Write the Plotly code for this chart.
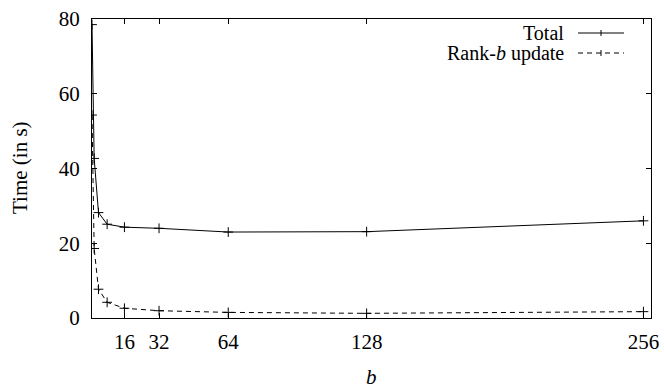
import plotly.graph_objects as go

# Data
block_sizes = [1, 2, 4, 8, 16, 32, 64, 128, 256]
total_time = [78.5, 42.7, 28.2, 25.1, 24.3, 24.0, 23.0, 23.1, 26.0]
rank_b_time = [54.3, 18.6, 7.7, 4.2, 2.6, 1.95, 1.5, 1.25, 1.7]
x_tick_vals = [16, 32, 64, 128, 256]
y_tick_vals = [0, 20, 40, 60, 80]
series_names = ["Total", "Rank-<i>b</i> update"]

FONT = "Liberation Serif"
W, H = 664, 388
L, R, T, B = 92, 13, 19, 70
PW, PH = W - L - R, H - T - B


def px2paper(px, py):
    return (px - L) / PW, (H - B - py) / PH


fig = go.Figure()
fig.add_trace(go.Scatter(
    x=block_sizes, y=total_time, mode="lines+markers", name=series_names[0],
    line=dict(color="black", width=1),
    marker=dict(symbol="cross-thin", size=7, line=dict(color="black", width=1)),
    showlegend=False,
))
fig.add_trace(go.Scatter(
    x=block_sizes, y=rank_b_time, mode="lines+markers", name=series_names[1],
    line=dict(color="black", width=1, dash="5px,4px"),
    marker=dict(symbol="cross-thin", size=7, line=dict(color="black", width=1)),
    showlegend=False,
))

axis_common = dict(
    showline=True, linecolor="black", linewidth=1, mirror="ticks",
    ticks="inside", ticklen=5, tickwidth=1, tickcolor="black",
    showgrid=False, zeroline=False,
    tickfont=dict(family=FONT, size=21, color="black"),
)
fig.update_xaxes(range=[1, 259.5], tickvals=x_tick_vals,
                 ticktext=[str(v) for v in x_tick_vals],
                 ticklabelstandoff=5, **axis_common)
fig.update_yaxes(range=[0, 80], tickvals=y_tick_vals,
                 ticklabelstandoff=7, **axis_common)

annotations = []
# axis titles
ax, ay = px2paper(20, 168)
annotations.append(dict(text="Time (in s)", xref="paper", yref="paper", x=ax, y=ay,
                        textangle=-90, showarrow=False, xanchor="center", yanchor="middle",
                        font=dict(family=FONT, size=21, color="black")))
bx, by = px2paper(371, 377)
annotations.append(dict(text="<i>b</i>", xref="paper", yref="paper", x=bx, y=by,
                        showarrow=False, xanchor="center", yanchor="middle",
                        font=dict(family=FONT, size=21, color="black")))

# legend (gnuplot style: text then sample to the right)
shapes = []
legend_rows = [(33, "solid"), (53, "5px,4px")]
for (row_y, dash), name in zip(legend_rows, series_names):
    tx, ty = px2paper(566, row_y)
    annotations.append(dict(text=name, xref="paper", yref="paper", x=tx, y=ty,
                            showarrow=False, xanchor="right", yanchor="middle",
                            font=dict(family=FONT, size=20, color="black")))
    x0, y0 = px2paper(578, row_y)
    x1, _ = px2paper(624, row_y)
    shapes.append(dict(type="line", xref="paper", yref="paper", x0=x0, x1=x1, y0=y0, y1=y0,
                       line=dict(color="black", width=1, dash=dash)))
    cx, cy0 = px2paper(601, row_y - 3)
    _, cy1 = px2paper(601, row_y + 3)
    shapes.append(dict(type="line", xref="paper", yref="paper", x0=cx, x1=cx, y0=cy0, y1=cy1,
                       line=dict(color="black", width=1)))

fig.update_layout(
    width=W, height=H,
    margin=dict(l=L, r=R, t=T, b=B, autoexpand=False),
    plot_bgcolor="white", paper_bgcolor="white",
    annotations=annotations, shapes=shapes,
    font=dict(family=FONT, size=21, color="black"),
)

fig.write_html(
    "out.html",
    config={"displayModeBar": False},
    post_script="document.body.style.margin='0';document.body.style.overflow='hidden';",
)
